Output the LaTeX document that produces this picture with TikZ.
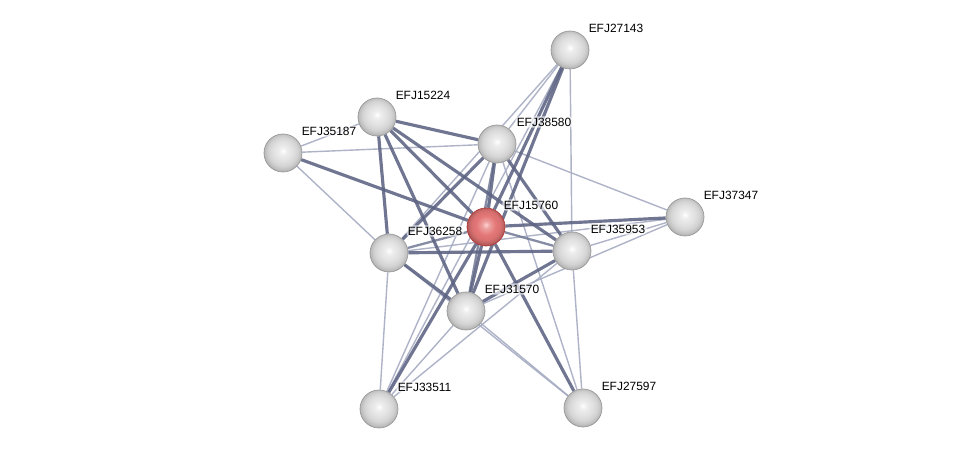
\documentclass[tikz,border=0pt]{standalone}
\usepackage{fontspec}
\setmainfont{Liberation Sans}
\usetikzlibrary{backgrounds}
\definecolor{strongc}{RGB}{92,99,130}
\definecolor{medc}{RGB}{112,120,148}
\definecolor{weakc}{RGB}{165,171,194}
\definecolor{redmid}{RGB}{228,118,118}
\definecolor{redrim}{RGB}{175,55,55}
\pgfdeclareradialshading{sphgray}{\pgfpoint{0bp}{3bp}}{color(0bp)=(white); color(5bp)=(gray!14); color(13bp)=(gray!24); color(19bp)=(gray!34); color(24bp)=(gray!52); color(28bp)=(gray!75); color(50bp)=(gray!75)}
\pgfdeclareradialshading{sphred}{\pgfpoint{0bp}{3bp}}{color(0bp)=(red!18!white); color(5bp)=(redmid!70!white); color(13bp)=(redmid); color(19bp)=(redmid!95!black); color(24bp)=(redmid!80!black); color(28bp)=(redrim); color(50bp)=(redrim)}
\tikzset{
  ball/.style={circle, minimum size=0.76cm, inner sep=0pt, shading=sphgray, draw=gray!80, line width=0.4pt},
  rednode/.style={circle, minimum size=0.76cm, inner sep=0pt, shading=sphred, draw=redrim, line width=0.4pt},
  lab/.style={anchor=west, inner sep=0.8pt, fill=white, fill opacity=0.65, text opacity=1, rounded corners=2pt, font=\fontsize{6.8}{8}\selectfont, text=black},
  strong/.style={draw=strongc, line width=1.8pt, opacity=0.88},
  med/.style={draw=medc, line width=1.3pt, opacity=0.85},
  weak/.style={draw=weakc, line width=0.8pt, opacity=0.9},
}
\begin{document}
\begin{tikzpicture}[x=0.02cm, y=-0.02cm]
\useasboundingbox (0,0) rectangle (975,455);
\node[ball] (n27143) at (570,50) {};
\node[ball] (n15224) at (377,117) {};
\node[ball] (n35187) at (283,153) {};
\node[ball] (n38580) at (497,144) {};
\node[ball] (n37347) at (685,217) {};
\node[ball] (n36258) at (389,253) {};
\node[ball] (n35953) at (572,251) {};
\node[ball] (n31570) at (466,311) {};
\node[ball] (n33511) at (379,409) {};
\node[ball] (n27597) at (583,408) {};
\node[rednode] (n15760) at (486,227) {};

\node[lab] (l27143) at (587,28) {EFJ27143};
\node[lab] (l15224) at (394,95) {EFJ15224};
\node[lab] (l35187) at (300,131) {EFJ35187};
\node[lab] (l38580) at (515,122) {EFJ38580};
\node[lab] (l37347) at (702,195) {EFJ37347};
\node[lab] (l15760) at (502,205) {EFJ15760};
\node[lab] (l36258) at (406,231) {EFJ36258};
\node[lab] (l35953) at (589,229) {EFJ35953};
\node[lab] (l31570) at (483,289) {EFJ31570};
\node[lab] (l33511) at (396,387) {EFJ33511};
\node[lab] (l27597) at (600,386) {EFJ27597};

\begin{pgfonlayer}{background}
% weak
\draw[weak] (n35187) -- (n38580);
\draw[weak] (n35187) -- (n15224);
\draw[weak] (n35187) -- (n36258);
\draw[weak] (n38580) -- (n37347);
\draw[weak] (n27143) -- (n38580);
\draw[weak] (n27143) -- (n36258);
\draw[weak] (n27143) -- (n33511);
\draw[weak] (n27143) -- (n35953);
\draw[weak] (n35953) -- (n37347);
\draw[weak] (n37347) -- (n31570);
\draw[weak] (n37347) -- (n36258);
\draw[weak] (n36258) -- (n33511);
\draw[weak] (n35953) -- (n27597);
\draw[weak] (n35953) -- (n33511);
\draw[weak] (n38580) -- (n27597);
\draw[weak] (n38580) -- (n33511);
\draw[weak] (n36258) -- (n27597);
\draw[weak] (n31570) -- (n33511);
\draw[weak] (n31570) -- (n27597);
% medium
\draw[med] (n15760) -- (n36258);
\draw[med] (n15760) -- (n35953);
\draw[med] (n38580) -- (n31570);
% strong
\draw[strong] (n15224) -- (n38580);
\draw[strong] (n15224) -- (n36258);
\draw[strong] (n15224) -- (n31570);
\draw[strong] (n15224) -- (n15760);
\draw[strong] (n15224) -- (n35953);
\draw[strong] (n35187) -- (n15760);
\draw[strong] (n38580) -- (n36258);
\draw[strong] (n38580) -- (n15760);
\draw[strong] (n38580) -- (n35953);
\draw[strong] (n27143) -- (n15760);
\draw[strong] (n27143) -- (n31570);
\draw[strong] (n15760) -- (n37347);
\draw[strong] (n15760) -- (n31570);
\draw[strong] (n15760) -- (n33511);
\draw[strong] (n15760) -- (n27597);
\draw[strong] (n36258) -- (n35953);
\draw[strong] (n36258) -- (n31570);
\draw[strong] (n35953) -- (n31570);
\end{pgfonlayer}
\end{tikzpicture}
\end{document}
